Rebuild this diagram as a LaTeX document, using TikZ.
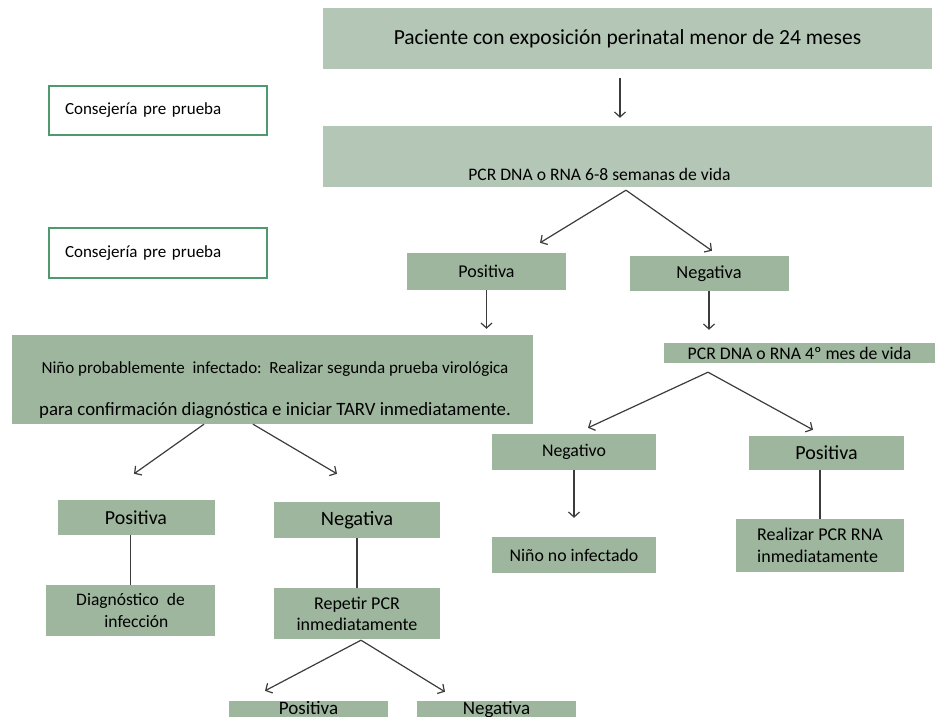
\documentclass[tikz,border=0pt]{standalone}
\usepackage{fontspec}
\setmainfont{Carlito}
\usetikzlibrary{arrows.meta}

\definecolor{boxlight}{RGB}{180,198,181}
\definecolor{boxgreen}{RGB}{158,182,158}
\definecolor{consedge}{RGB}{78,154,110}
\definecolor{linegray}{RGB}{60,60,60}
\newcommand{\pxfont}[2][]{\fontsize{#2}{#2}\selectfont}

\begin{document}
\begin{tikzpicture}[x=1pt,y=-1pt,>={Straight Barb[length=5pt,width=11pt]},
  flow/.style={fill=boxgreen,draw=none,inner sep=0pt,align=center},
  flowlight/.style={flow,fill=boxlight},
  consejo/.style={draw=consedge,line width=1.6pt,fill=white,minimum width=218pt,minimum height=49pt,text width=186pt,inner xsep=16pt,align=left,font=\pxfont{17}},
  cutbox/.style={flow,anchor=base,minimum width=159pt,text height=13pt,text depth=10pt,inner ysep=0pt,font=\pxfont{19}},
  link/.style={draw=linegray,line width=1.2pt},
  arr/.style={link,->}]
\useasboundingbox (0,0) rectangle (935,717);
\clip (0,0) rectangle (935,717);

% top of the chart
\node[flowlight,minimum width=609pt,minimum height=61pt,font=\pxfont{21.5}] (pac) at (627.5,38.5) {Paciente con exposición perinatal menor de 24 meses};
\node[flowlight,minimum width=609pt,minimum height=61pt] (pcr1) at (627.5,156.5) {};
\node[font=\pxfont{17.6},inner sep=0pt] (pcr1txt) at (599.5,174) {PCR DNA o RNA 6-8 semanas de vida};
\node[consejo] (cons1) at (158,110.5) {Consejería pre prueba};
\node[consejo,minimum height=50pt] (cons2) at (158,253) {Consejería pre prueba};

\node[flow,minimum width=159pt,minimum height=37pt,font=\pxfont{18}] (pos1) at (486.5,271.5) {Positiva};
\node[flow,minimum width=159pt,minimum height=35pt,font=\pxfont{18.4}] (neg1) at (709,273.5) {Negativa};

% left branch
\node[flow,minimum width=521pt,minimum height=89pt] (nino) at (272.5,379.5) {};
\node[align=center,inner sep=0pt] (ninotxt) at (275,390) {{\fontsize{17}{17}\selectfont Niño probablemente\ \ infectado:\ \ Realizar segunda prueba virológica}\\[25pt]
  {\fontsize{18.8}{18.8}\selectfont para confirmación diagnóstica e iniciar TARV inmediatamente.}};
\node[flow,minimum width=157pt,minimum height=35pt,font=\pxfont{19.9}] (posl) at (136,517.5) {Positiva};
\node[flow,minimum width=166pt,minimum height=36pt,font=\pxfont{20.4}] (negl) at (357,520) {Negativa};
\node[flow,minimum width=169pt,minimum height=51pt,font=\fontsize{17.5}{22}\selectfont] (diag) at (130.5,610.5) {Diagnóstico\ \ de\\\ \ \ infección};
\node[flow,minimum width=166pt,minimum height=51pt,font=\fontsize{18}{21}\selectfont] (repet) at (357,613.5) {Repetir PCR\\inmediatamente};
\node[cutbox] (posb) at (308.5,714) {Positiva};
\node[cutbox] (negb) at (496.5,714) {Negativa};

% right branch
\node[flow,minimum width=271pt,minimum height=20pt,font=\pxfont{17.7}] (pcr4) at (799.5,353) {PCR DNA o RNA 4º mes de vida};
\node[flow,minimum width=164pt,minimum height=36pt,font=\pxfont{17.8}] (negv) at (574,452) {Negativo};
\node[flow,minimum width=155pt,minimum height=34pt,font=\pxfont{20}] (posr) at (826.5,453) {Positiva};
\node[flow,minimum width=164pt,minimum height=36pt,font=\pxfont{17.8}] (ninono) at (574,555) {Niño no infectado};
\node[flow,minimum width=168pt,minimum height=53pt,align=left,font=\fontsize{18}{22}\selectfont] (realiz) at (820,545.5) {Realizar PCR RNA\\inmediatamente};

% connectors
\draw[arr,shorten <=9pt,shorten >=8pt] ([xshift=-7.5pt]pac.south) -- ([xshift=-7.5pt]pcr1.north);
\draw[arr] ([xshift=-1.5pt,yshift=-3pt]pcr1.south) -- ([xshift=53.5pt,yshift=10pt]pos1.north);
\draw[arr] ([xshift=-1.5pt,yshift=-3pt]pcr1.south) -- ([xshift=3pt,yshift=5pt]neg1.north);
\draw[arr,shorten >=6pt] (pos1.south) -- (pos1.south |- nino.north);
\draw[arr,shorten >=13pt] (neg1.south) -- (neg1.south |- pcr4.north);
\draw[arr] ([xshift=-91.5pt,yshift=-9pt]pcr4.south) -- ([xshift=14pt,yshift=6pt]negv.north);
\draw[arr] ([xshift=-91.5pt,yshift=-9pt]pcr4.south) -- ([xshift=-13.5pt,yshift=6pt]posr.north);
\draw[arr,shorten >=19pt] (negv.south) -- (ninono.north);
\draw[link] (realiz.north |- posr.south) -- (realiz.north);
\draw[arr] ([xshift=-68.5pt]nino.south) -- ([xshift=-2pt,yshift=26pt]posl.north);
\draw[arr] ([xshift=-19.5pt]nino.south) -- ([xshift=-20pt,yshift=28pt]negl.north);
\draw[link] (diag.north |- posl.south) -- (diag.north);
\draw[link] (negl.south) -- (repet.north);
\draw[arr] ([xshift=4pt,yshift=-1pt]repet.south) -- ([xshift=-43.5pt,yshift=10pt]posb.north);
\draw[arr] ([xshift=4pt,yshift=-1pt]repet.south) -- ([xshift=-51.5pt,yshift=9pt]negb.north);
\end{tikzpicture}
\end{document}
